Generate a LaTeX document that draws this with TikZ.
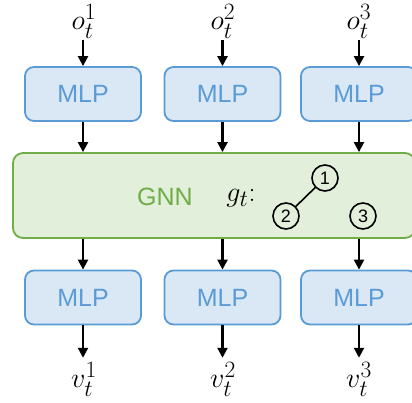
\documentclass[tikz,border=0pt]{standalone}
\usepackage{amsmath}
\usepackage{fontspec}
\setsansfont{Liberation Sans}
\usepackage{tikz}
\usetikzlibrary{positioning, calc, arrows.meta}

\definecolor{mlpfill}{HTML}{DAE8F6}
\definecolor{mlpline}{HTML}{5B9BD5}
\definecolor{gnnfill}{HTML}{E2EFDA}
\definecolor{gnnline}{HTML}{70AD47}

\begin{document}
\begin{tikzpicture}[
        x=1pt, y=-1pt,
        mlp/.style={rectangle, rounded corners=9pt, draw=mlpline, fill=mlpfill, line width=1.8pt, minimum width=116pt, minimum height=54pt, inner sep=0pt, text=mlpline, font=\sffamily\fontsize{25}{28}\selectfont},
        gnnbox/.style={rectangle, rounded corners=10pt, draw=gnnline, fill=gnnfill, line width=1.8pt, minimum width=402pt, minimum height=85pt, inner sep=0pt},
        agent/.style={circle, draw=black, line width=1.6pt, minimum size=26pt, inner sep=0pt, font=\sffamily\fontsize{18}{20}\selectfont},
        sig/.style={inner sep=0pt, scale=1.13, font=\fontsize{24.88}{28}\selectfont},
        arrow/.style={-{Triangle[length=10pt, width=10pt]}, line width=2.3pt, draw=black}
    ]
        \useasboundingbox (0,0) rectangle (412,403);

        % --- OBSERVATIONS ---
        \node[sig] (o1) at (84, 21.5) {$o_t^1$};
        \node[sig] (o2) at (223, 21.5) {$o_t^2$};
        \node[sig] (o3) at (359, 21.5) {$o_t^3$};

        % --- INPUT MLPS ---
        \node[mlp] (in1) at (83, 94) {MLP};
        \node[mlp] (in2) at (222.5, 94) {MLP};
        \node[mlp] (in3) at (359, 94) {MLP};

        % --- GNN ---
        \node[gnnbox] (gnn) at (214, 195.5) {};
        \node[text=gnnline, font=\sffamily\fontsize{25}{28}\selectfont] (gnnlabel) at (165, 197) {GNN};
        \node[sig] (graph) at (241, 198) {$g_t$:};
        \node[agent] (a1) at (325, 178) {1};
        \node[agent] (a2) at (286, 216) {2};
        \node[agent] (a3) at (363, 216) {3};
        \draw[line width=1.6pt] (a1) -- (a2);

        % --- OUTPUT MLPS ---
        \node[mlp] (out1) at (83, 297.5) {MLP};
        \node[mlp] (out2) at (222.5, 297.5) {MLP};
        \node[mlp] (out3) at (359, 297.5) {MLP};

        % --- ACTIONS ---
        \node[sig] (v1) at (84, 379) {$v_t^1$};
        \node[sig] (v2) at (223, 379) {$v_t^2$};
        \node[sig] (v3) at (359, 379) {$v_t^3$};

        % --- CONNECTIONS ---
        \draw[arrow, shorten <=1pt] (in1.north |- o1.south) -- (in1.north);
        \draw[arrow, shorten <=1pt] (in2.north |- o2.south) -- (in2.north);
        \draw[arrow, shorten <=1pt] (in3.north |- o3.south) -- (in3.north);

        \draw[arrow] (in1.south) -- (in1.south |- gnn.north);
        \draw[arrow] (in2.south) -- (in2.south |- gnn.north);
        \draw[arrow] (in3.south) -- (in3.south |- gnn.north);

        \draw[arrow] (out1.north |- gnn.south) -- (out1.north);
        \draw[arrow] (out2.north |- gnn.south) -- (out2.north);
        \draw[arrow] (out3.north |- gnn.south) -- (out3.north);

        \draw[arrow, shorten >=4pt] (out1.south) -- (out1.south |- v1.north);
        \draw[arrow, shorten >=4pt] (out2.south) -- (out2.south |- v2.north);
        \draw[arrow, shorten >=4pt] (out3.south) -- (out3.south |- v3.north);

    \end{tikzpicture}
\end{document}
